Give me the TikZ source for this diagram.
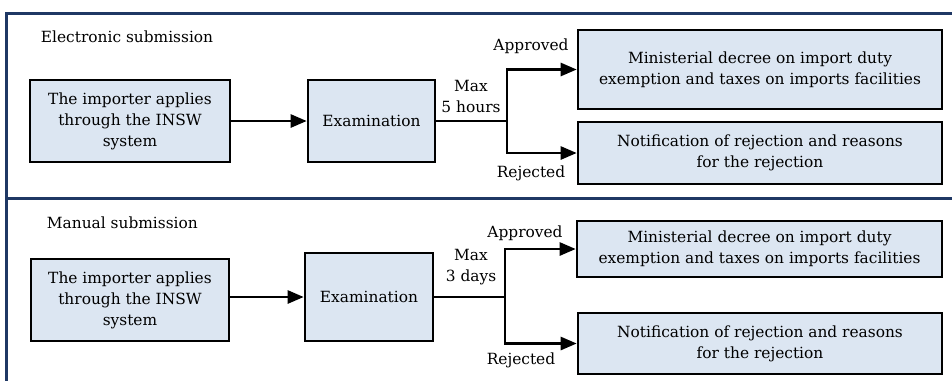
\documentclass[tikz,border=0pt]{standalone}
\usepackage{fontspec}
\setmainfont{DejaVu Serif}
\usepackage[table]{xcolor}
\usetikzlibrary{arrows.meta}

\definecolor{boxblue}{RGB}{220,230,242}
\definecolor{framenavy}{RGB}{31,56,100}

\begin{document}
\begin{tikzpicture}[x=1pt,y=1pt,yscale=-1,
  font=\fontsize{15.4}{21}\selectfont,
  procbox/.style={draw=black,fill=boxblue,line width=2.6,align=center,inner sep=2pt},
  flow/.style={line width=2.6,-{Triangle[length=16pt,width=13pt]}},
  framing/.style={draw=framenavy,line width=3},
  lbl/.style={inner sep=0.75pt,align=center}]

\useasboundingbox (0,0) rectangle (952,381);

% outer frame, split in two panels
\draw [framing] (952,13) -- (6,13) -- (6,381) ;
\draw [framing] (6,198) -- (952,198) ;

% Electronic submission
\node (elec) [lbl,anchor=west] at (40,37) {Electronic submission};
\node (imp1) [procbox,minimum width=200,minimum height=82] at (130,121) {The importer applies \\ through the INSW \\ system};
\node (exam1) [procbox,minimum width=127,minimum height=82] at (371.5,121) {Examination};
\node (dec1) [procbox,minimum width=364,minimum height=79] at (760,69.5) {Ministerial decree on import duty \\ exemption and taxes on imports facilities};
\node (rej1) [procbox,minimum width=364,minimum height=62] at (760,153) {Notification of rejection and reasons \\ for the rejection};
\coordinate (b1) at (507,121);

\draw [flow] (imp1) -- (exam1) ;
\draw [line width=2.6] (exam1.east) -- (b1) ;
\draw [flow] (b1) |- (dec1.west) ;
\draw [flow] (b1) |- (rej1.west) ;

\node (max1) [lbl] at (471,96) {Max \\ 5 hours};
\node (app1) [lbl] at (531,46) {Approved};
\node (no1) [lbl] at (531,173) {Rejected};

% Manual submission
\node (man) [lbl,anchor=west] at (46,223) {Manual submission};
\node (imp2) [procbox,minimum width=198,minimum height=82] at (130,300) {The importer applies \\ through the INSW \\ system};
\node (exam2) [procbox,minimum width=128,minimum height=88] at (369,297) {Examination};
\node (dec2) [procbox,minimum width=365,minimum height=56] at (759.5,249) {Ministerial decree on import duty \\ exemption and taxes on imports facilities};
\node (rej2) [procbox,minimum width=364,minimum height=61] at (760,343.5) {Notification of rejection and reasons \\ for the rejection};
\coordinate (b2) at (505,297);

\draw [flow] (imp2.east |- exam2) -- (exam2.west) ;
\draw [line width=2.6] (exam2.east) -- (b2) ;
\draw [flow] (b2) |- (dec2.west) ;
\draw [flow] (b2) |- (rej2.west) ;

\node (max2) [lbl] at (471,267) {Max \\ 3 days};
\node (app2) [lbl] at (525,233) {Approved};
\node (no2) [lbl] at (521,360) {Rejected};

\end{tikzpicture}
\end{document}
